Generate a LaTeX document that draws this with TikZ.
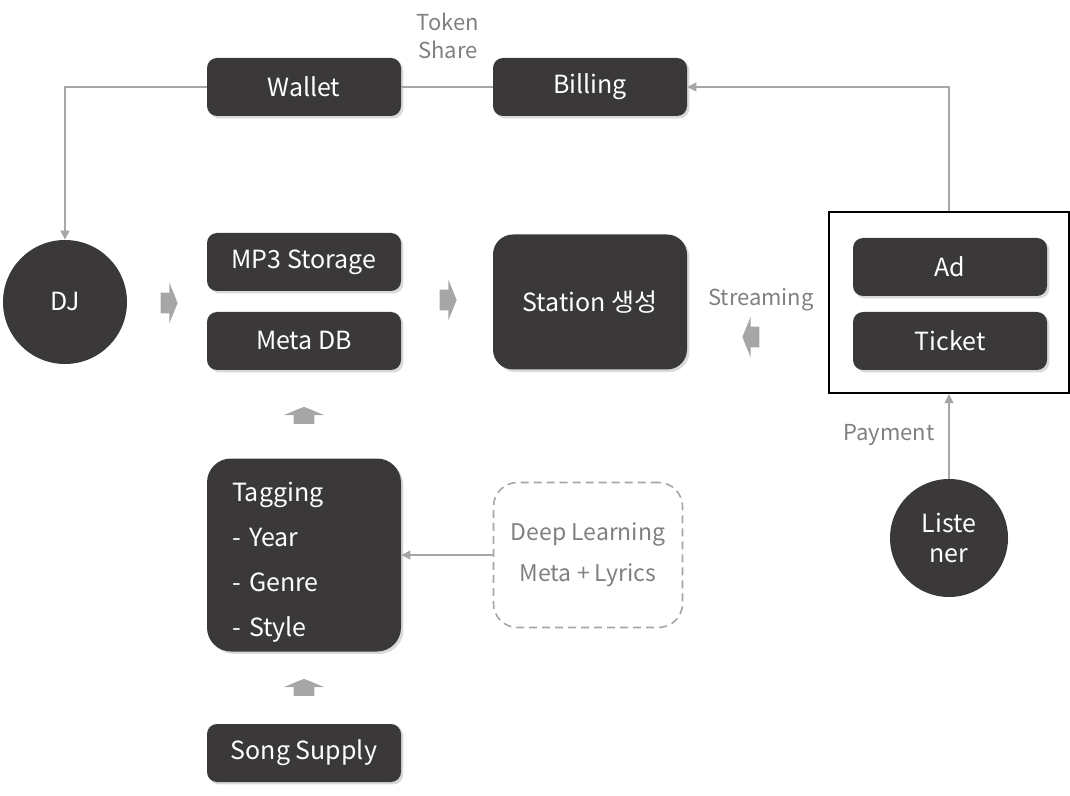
\documentclass[tikz,border=0pt]{standalone}
\usepackage{fontspec}
\setmainfont{Noto Sans CJK KR}
\usetikzlibrary{shapes.arrows,shadows,arrows.meta}
\definecolor{boxgray}{HTML}{3A3838}
\definecolor{linegray}{HTML}{A6A6A6}
\definecolor{textgray}{HTML}{808080}

\begin{document}
\begin{tikzpicture}[x=0.5pt,y=-0.5pt]
                \tikzstyle{every node}+=[inner sep=0pt]
                \tikzstyle{darkbox}=[fill=boxgray, text=white, rounded corners=5pt, minimum width=97pt, minimum height=29pt, font=\fontsize{12.5}{15}\selectfont, drop shadow={shadow xshift=1.2pt, shadow yshift=-1.2pt, opacity=0.3}]
                \tikzstyle{darkdot}=[circle, fill=boxgray, text=white, align=center, font=\fontsize{12.5}{15}\selectfont]
                \tikzstyle{graytext}=[text=textgray, align=center, font=\fontsize{11}{14}\selectfont]
                \tikzstyle{blockarrow}=[single arrow, fill=linegray, inner xsep=0pt, inner ysep=5pt, minimum height=8.5pt, single arrow head extend=5pt, single arrow tip angle=136]
                \tikzstyle{upblockarrow}=[blockarrow, inner xsep=5pt, inner ysep=0pt, shape border rotate=90]
                \tikzstyle{link}=[draw=linegray, line width=0.6pt]
                \tikzstyle{linkto}=[link, -{Triangle[width=4.5pt,length=4.5pt]}]
                \useasboundingbox (0,0) rectangle (1070,796);
                % top row
                \node [darkbox] (wallet) at (304,87) {Wallet};
                \node [darkbox] (billing) at (590,87) {Billing};
                \node [graytext] (share) at (448,36) {Token\\Share};
                % middle row
                \node [darkdot, minimum size=62pt] (dj) at (65,302) {DJ};
                \node [blockarrow] (djarrow) at (167,303) {};
                \node [darkbox] (storage) at (304,262) {MP3 Storage};
                \node [darkbox] (metadb) at (304,341) {Meta DB};
                \node [blockarrow] (dbarrow) at (446,300) {};
                \node [darkbox, minimum height=67.5pt, rounded corners=10pt] (station) at (590,302) {Station 생성};
                \node [graytext] (streaming) at (761,300) {Streaming};
                \node [blockarrow, shape border rotate=180] (streamarrow) at (753,337) {};
                \node [draw=black, line width=1.1pt, minimum width=120pt, minimum height=90.5pt] (payframe) at (949,302.5) {};
                \node [darkbox] (ad) at (950,267) {Ad};
                \node [darkbox] (ticket) at (950,341) {Ticket};
                % lower part
                \node [upblockarrow] (tagarrow) at (304,417.5) {};
                \node [darkbox, minimum height=96.5pt, rounded corners=12pt, text width=72pt, align=left, font=\fontsize{12.5}{22.5}\selectfont] (tagging) at (304,555) {\rule{0pt}{17pt}Tagging\\- Year\\- Genre\\- Style};
                \node [draw=linegray, dash pattern=on 4pt off 2.5pt, line width=0.8pt, rounded corners=12pt, minimum width=94.5pt, minimum height=72.5pt, text=textgray, align=center, font=\fontsize{11.5}{20.5}\selectfont] (deep) at (588,555) {Deep Learning\\Meta + Lyrics};
                \node [upblockarrow] (supplyarrow) at (304,689.5) {};
                \node [darkbox] (supply) at (304,753) {Song Supply};
                \node [graytext] (payment) at (889,435) {Payment};
                \node [darkdot, minimum size=59pt] (listener) at (949,538) {Liste\\ner};
                % connectors
                \draw [link] (wallet.east) -- (billing.west);
                \draw [linkto] (payframe.north) |- (billing.east);
                \draw [linkto] (wallet.west) -| (dj.north);
                \draw [linkto] (listener.north) -- (payframe.south);
                \draw [linkto] (deep.west) -- (tagging.east);
            \end{tikzpicture}
\end{document}
